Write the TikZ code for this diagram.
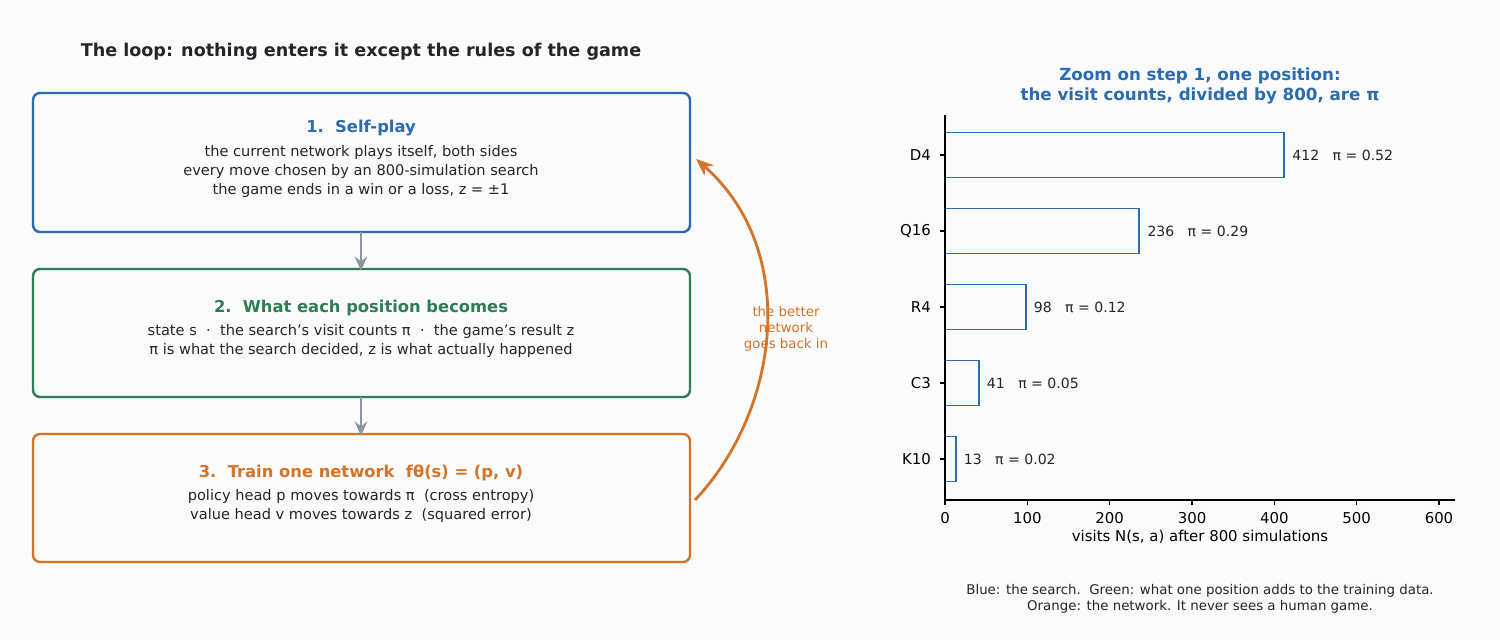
\documentclass[tikz,border=0pt]{standalone}
\usepackage{fontspec}
\setmainfont{DejaVu Sans}
\usetikzlibrary{arrows.meta}
\definecolor{bl}{HTML}{2B6CB0}
\definecolor{gr}{HTML}{2E7D57}
\definecolor{orr}{HTML}{D4732A}
\definecolor{tx}{HTML}{22252B}
\definecolor{gy}{HTML}{8D95A3}
\definecolor{bg}{HTML}{FBFBFB}
\begin{document}
\begin{tikzpicture}[x=0.02cm,y=-0.02cm,
  box/.style={line width=1.4pt,rounded corners=4pt,fill=bg},
  body/.style={font=\fontsize{8.3}{10.8}\selectfont,text=tx,align=center},
  head/.style={font=\fontsize{9.3}{11}\selectfont\bfseries,align=center},
  garr/.style={draw=gy,line width=1.6pt,-{Stealth[length=8pt,width=7pt]}},
  bar/.style={draw=bl,line width=1pt},
  tick/.style={font=\fontsize{8.5}{10}\selectfont,text=black},
  blab/.style={font=\fontsize{8}{10}\selectfont,text=tx,anchor=west}]
\fill[bg] (0,0) rectangle (1500,640);
\useasboundingbox (0,0) rectangle (1500,640);
\node[font=\fontsize{10}{12}\selectfont\bfseries,text=tx] (title) at (361,52) {The loop: nothing enters it except the rules of the game};
% boxes
\draw[box,draw=bl] (33,93) rectangle (690,232);
\coordinate (b1t) at (361,232);
\node[head,text=bl] (h1) at (361,128) {1.\ \ Self-play};
\node[body] (t1) at (361,171) {the current network plays itself, both sides\\every move chosen by an 800-simulation search\\the game ends in a win or a loss, z = ±1};
\draw[box,draw=gr] (33,269) rectangle (690,397);
\coordinate (b2t) at (361,269);
\coordinate (b2b) at (361,397);
\node[head,text=gr] (h2) at (361,308) {2.\ \ What each position becomes};
\node[body] (t2) at (361,341) {state s \ · \ the search's visit counts π \ · \ the game's result z\\π is what the search decided, z is what actually happened};
\draw[box,draw=orr] (33,434) rectangle (690,562);
\coordinate (b3t) at (361,434);
\node[head,text=orr] (h3) at (361,473) {3.\ \ Train one network \ fθ(s) = (p, v)};
\node[body] (t3) at (361,506) {policy head p moves towards π \ (cross entropy)\\value head v moves towards z \ (squared error)};
\draw[garr] (b1t) -- ([yshift=-1pt]b2t);
\draw[garr] (b2b) -- ([yshift=-1pt]b3t);
\coordinate (cs) at (695,500);
\coordinate (ce) at (696,159);
\draw[orr,line width=1.6pt,-{Stealth[length=10pt,width=8pt]}] (cs) .. controls (780,410) and (800,250) .. (ce);
\node[font=\fontsize{7.6}{9}\selectfont,text=orr,align=center] (lab) at (786,329) {the better\\network\\goes back in};
% chart
\node[font=\fontsize{9.5}{11.5}\selectfont\bfseries,text=bl,align=center] (ct) at (1200,86) {Zoom on step 1, one position:\\the visit counts, divided by 800, are π};
\coordinate (o) at (945,500);
\foreach \v/\n/\y/\p in {412/D4/155/0.52,236/Q16/231/0.29,98/R4/307/0.12,41/C3/383/0.05,13/K10/459/0.02}{
  \draw[bar] (945,\y-22.5) rectangle (945+0.8233*\v,\y+22.5);
  \draw[black,line width=0.7pt] (945,\y) -- (940,\y);
  \node[tick,anchor=east] (y\n) at (937,\y) {\n};
  \node[blab] (l\n) at (945+0.8233*\v+2,\y) {\v \ \ \ π = \p};
}
\draw[black,line width=0.7pt] (945,115) -- (o) -- (1455,500);
\foreach \t in {0,100,...,600}{
  \draw[black,line width=0.7pt] (945+0.8233*\t,500) -- (945+0.8233*\t,505);
  \node[tick,anchor=north] (x\t) at (945+0.8233*\t,506) {\t};
}
\node[font=\fontsize{8.5}{10}\selectfont,text=black] (xl) at (1200,537) {visits N(s, a) after 800 simulations};
\node[font=\fontsize{7.6}{9.3}\selectfont,text=tx,align=center] (cap) at (1200,599) {Blue: the search.\ \ Green: what one position adds to the training data.\\Orange: the network. It never sees a human game.};
\end{tikzpicture}
\end{document}
